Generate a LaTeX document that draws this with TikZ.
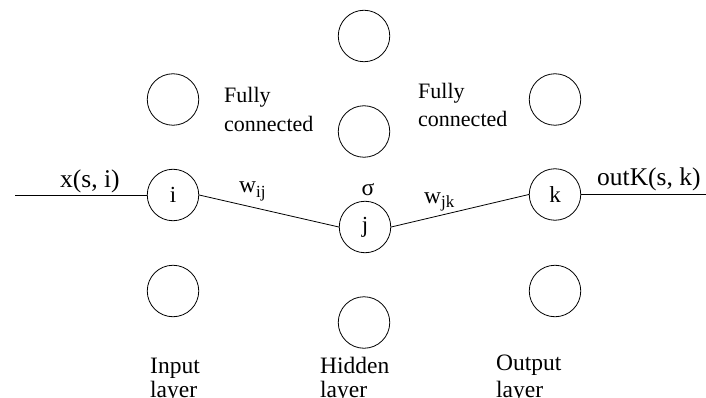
\documentclass[tikz,border=0pt]{standalone}
\usepackage{fontspec}
\setmainfont{Liberation Serif}
\begin{document}
\begin{tikzpicture}[x=1pt,y=-1pt,
  neuron/.style={draw,circle,line width=0.8pt,minimum size=51.5pt,inner sep=0pt,
    font=\fontsize{23}{27}\selectfont},
  wire/.style={line width=0.8pt},
  lbl/.style={inner sep=0pt,anchor=base west,font=\fontsize{23.5}{27}\selectfont},
  sig/.style={inner sep=0pt,anchor=base west,font=\fontsize{25.5}{29}\selectfont},
  small/.style={inner sep=0pt,anchor=base west,font=\fontsize{22}{26}\selectfont}]
\useasboundingbox (0,0) rectangle (706,398);

% input layer
\node[neuron] (i1) at (173,99.5) {};
\node[neuron] (i) at (173,195) {i};
\node[neuron] (i3) at (173,291) {};

% hidden layer
\node[neuron] (h1) at (364,36) {};
\node[neuron] (h2) at (364,131.5) {};
\node[neuron] (j) at (365,227) {j};
\node[neuron] (h4) at (364,322.5) {};

% output layer
\node[neuron] (o1) at (555,99.5) {};
\node[neuron] (k) at (555,194.5) {k};
\node[neuron] (o3) at (555,291) {};

% external wires
\coordinate (xin) at (15,195);
\coordinate (xout) at (706,194.5);
\draw[wire] (xin) -- (i.west);
\draw[wire] (i.east) -- (j.west);
\draw[wire] (j.east) -- (k.west);
\draw[wire] (k.east) -- (xout);

% signal and weight labels
\node[sig] (xlbl) at (60,187) {x(s, i)};
\node[sig] (outlbl) at (597,185.5) {outK(s, k)};
\node[lbl] (wij) at (239,193) {w\raisebox{-5pt}{\fontsize{17}{20}\selectfont ij}};
\node[lbl] (sigma) at (361.5,195) {σ};
\node[lbl] (wjk) at (424,203) {w\raisebox{-5pt}{\fontsize{17}{20}\selectfont jk}};

% connectivity notes
\node[small] (fc1a) at (224,103) {Fully};
\node[small] (fc1b) at (224,132) {connected};
\node[small] (fc2a) at (418,99) {Fully};
\node[small] (fc2b) at (418,127) {connected};

% layer names
\node[lbl] (in1) at (150,373) {Input};
\node[lbl] (in2) at (150,397) {layer};
\node[lbl] (hd1) at (320,373) {Hidden};
\node[lbl] (hd2) at (320,397) {layer};
\node[lbl] (ou1) at (496,370) {Output};
\node[lbl] (ou2) at (496,397) {layer};
\end{tikzpicture}
\end{document}
